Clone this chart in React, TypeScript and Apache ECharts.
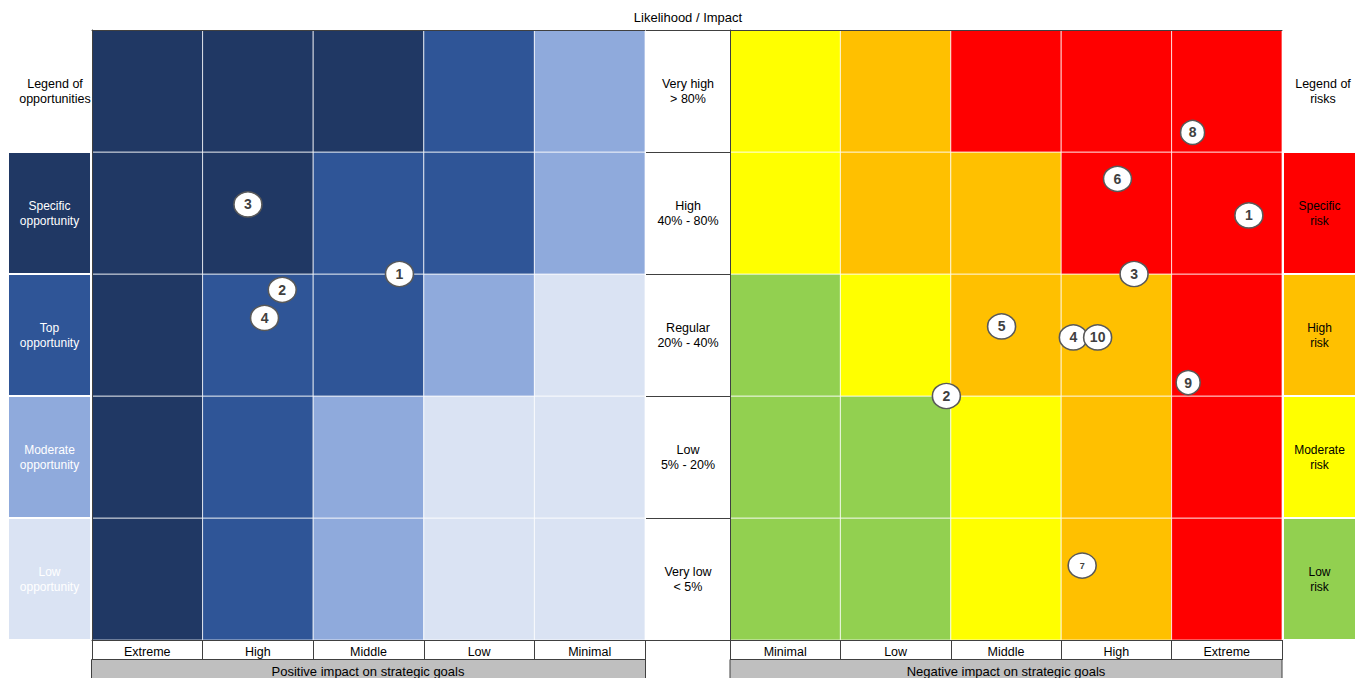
import React, { useEffect, useRef } from 'react';
import * as echarts from 'echarts';

// ---- data ----
const likelihood = ['Very low\n< 5%', 'Low\n5% - 20%', 'Regular\n20% - 40%', 'High\n40% - 80%', 'Very high\n> 80%'];
const positiveImpact = ['Extreme', 'High', 'Middle', 'Low', 'Minimal'];
const negativeImpact = ['Minimal', 'Low', 'Middle', 'High', 'Extreme'];
const opportunityLevels = ['Low\nopportunity', 'Moderate\nopportunity', 'Top\nopportunity', 'Specific\nopportunity'];
const riskLevels = ['Low\nrisk', 'Moderate\nrisk', 'High\nrisk', 'Specific\nrisk'];
// rows from "Very low" (index 0) to "Very high" (index 4); values = level index
const opportunityMatrix = [
  [3, 2, 1, 0, 0],
  [3, 2, 1, 0, 0],
  [3, 2, 2, 1, 0],
  [3, 3, 2, 2, 1],
  [3, 3, 3, 2, 1],
];
const riskMatrix = [
  [0, 0, 1, 2, 3],
  [0, 0, 1, 2, 3],
  [0, 1, 2, 2, 3],
  [1, 2, 2, 3, 3],
  [1, 2, 3, 3, 3],
];
// [label, impact position (0-5), likelihood position (0-5)]
const opportunityPoints: [string, number, number][] = [
  ['1', 2.78, 3.0],
  ['2', 1.72, 2.87],
  ['3', 1.41, 3.57],
  ['4', 1.56, 2.64],
];
const riskPoints: [string, number, number][] = [
  ['1', 4.7, 3.48],
  ['2', 1.96, 2.0],
  ['3', 3.66, 3.0],
  ['4', 3.11, 2.48],
  ['5', 2.46, 2.57],
  ['6', 3.51, 3.78],
  ['7', 3.19, 0.61],
  ['8', 4.19, 4.16],
  ['9', 4.15, 2.11],
  ['10', 3.33, 2.48],
];

const opportunityColors = ['#DAE3F3', '#8FAADC', '#2F5597', '#203864'];
const riskColors = ['#92D050', '#FFFF00', '#FFC000', '#FF0000'];
const FONT = '"Liberation Sans", Arial, sans-serif';
const LINE = '#404040';

function cellSeries(matrix: number[][], colors: string[], axisIdx: number) {
  const data: number[][] = [];
  matrix.forEach((row, r) => row.forEach((lvl, c) => data.push([c, r, lvl])));
  return {
    type: 'custom',
    xAxisIndex: axisIdx,
    yAxisIndex: axisIdx,
    z: 1,
    clip: false,
    silent: true,
    encode: { x: 0, y: 1 },
    data,
    renderItem: (params: any, api: any) => {
      const x = api.value(0), y = api.value(1), lvl = api.value(2);
      const p0 = api.coord([x, y + 1]);
      const p1 = api.coord([x + 1, y]);
      return {
        type: 'rect',
        shape: { x: p0[0], y: p0[1], width: p1[0] - p0[0], height: p1[1] - p0[1] },
        style: { fill: colors[lvl], stroke: 'rgba(255,255,255,0.7)', lineWidth: 1 },
      };
    },
  };
}

function legendSeries(levels: string[], colors: string[], textColor: string, axisIdx: number) {
  return {
    type: 'custom',
    xAxisIndex: axisIdx,
    yAxisIndex: axisIdx,
    z: 1,
    clip: false,
    silent: true,
    encode: { x: 0, y: 1 },
    data: levels.map((_, i) => [0, i, i]),
    renderItem: (params: any, api: any) => {
      const y = api.value(1), lvl = api.value(2);
      const p0 = api.coord([0, y + 1]);
      const p1 = api.coord([1, y]);
      const w = p1[0] - p0[0];
      const h = p1[1] - p0[1];
      return {
        type: 'group',
        children: [
          {
            type: 'rect',
            shape: { x: p0[0], y: p0[1] + 1, width: w, height: h - 2 },
            style: { fill: colors[lvl] },
          },
          {
            type: 'text',
            style: {
              text: levels[params.dataIndex],
              x: p0[0] + w / 2,
              y: p0[1] + h / 2,
              align: 'center',
              verticalAlign: 'middle',
              fill: textColor,
              fontSize: 12,
              fontFamily: FONT,
              lineHeight: 15,
            },
          },
        ],
      };
    },
  };
}

function pointSeries(points: [string, number, number][], axisIdx: number) {
  return {
    type: 'scatter',
    xAxisIndex: axisIdx,
    yAxisIndex: axisIdx,
    z: 6,
    symbol: 'circle',
    symbolSize: [28, 25],
    itemStyle: { color: '#ffffff', borderColor: '#595959', borderWidth: 1.5, opacity: 1 },
    label: {
      show: true,
      position: 'inside',
      formatter: '{b}',
      color: '#404040',
      fontWeight: 'bold',
      fontSize: 14,
      fontFamily: FONT,
    },
    data: points.map(([name, x, y]) => {
      const item: any = { name, value: [x, y] };
      if (name === '8' || name === '9') item.symbolSize = [24, 24];
      if (name === '7') item.label = { fontSize: 9 };
      return item;
    }),
  };
}

const hiddenValue = (gridIndex: number, max: number) => ({
  type: 'value', gridIndex, min: 0, max, show: false,
});

export default function App() {
  const ref = useRef<HTMLDivElement>(null);
  useEffect(() => {
    if (!ref.current) return;
    const chart = echarts.init(ref.current, undefined, { renderer: 'svg' });
    const catX = (gridIndex: number, data: string[]) => ({
      type: 'category',
      gridIndex,
      data,
      position: 'bottom',
      z: 5,
      axisLine: { show: true, lineStyle: { color: LINE, width: 1 } },
      axisTick: { show: true, length: 20, lineStyle: { color: LINE, width: 1 } },
      axisLabel: { show: true, margin: 5, color: '#000', fontSize: 12.5, fontFamily: FONT },
      splitLine: { show: false },
    });
    const topValX = (gridIndex: number) => ({
      type: 'value',
      gridIndex,
      min: 0,
      max: 5,
      position: 'top',
      z: 5,
      axisLine: { show: true, lineStyle: { color: LINE, width: 1 } },
      axisTick: { show: false },
      axisLabel: { show: false },
      splitLine: { show: false },
    });
    const option: any = {
      animation: false,
      backgroundColor: '#ffffff',
      grid: [
        { left: 92, top: 30, width: 553, height: 610 },
        { left: 730, top: 30, width: 552, height: 610 },
        { left: 9, top: 152, width: 81, height: 488 },
        { left: 1284, top: 152, width: 79, height: 488 },
      ],
      xAxis: [
        catX(0, positiveImpact),
        topValX(0),
        catX(1, negativeImpact),
        topValX(1),
        hiddenValue(2, 1),
        hiddenValue(3, 1),
      ],
      yAxis: [
        {
          type: 'category',
          gridIndex: 0,
          data: likelihood,
          position: 'right',
          z: 5,
          axisLine: { show: true, lineStyle: { color: LINE, width: 1 } },
          axisTick: { show: false },
          axisLabel: { show: false },
          splitLine: { show: false },
        },
        hiddenValue(0, 5),
        {
          type: 'category',
          gridIndex: 1,
          data: likelihood,
          position: 'left',
          z: 5,
          axisLine: { show: true, lineStyle: { color: LINE, width: 1 } },
          axisTick: { show: true, length: 84, lineStyle: { color: LINE, width: 1 } },
          axisLabel: {
            show: true,
            margin: 42,
            align: 'center',
            color: '#000',
            fontSize: 12.5,
            lineHeight: 15,
            fontFamily: FONT,
          },
          splitLine: { show: false },
        },
        hiddenValue(1, 5),
        hiddenValue(2, 4),
        hiddenValue(3, 4),
      ],
      graphic: [
        {
          type: 'text',
          x: 688,
          y: 17,
          style: {
            text: 'Likelihood / Impact', fill: '#000', fontSize: 13, fontFamily: FONT,
            align: 'center', verticalAlign: 'middle',
          },
        },
        {
          type: 'text',
          x: 55,
          y: 91,
          style: {
            text: 'Legend of\nopportunities', fill: '#000', fontSize: 12.5, fontFamily: FONT,
            lineHeight: 15, align: 'center', verticalAlign: 'middle',
          },
        },
        {
          type: 'text',
          x: 1323,
          y: 91,
          style: {
            text: 'Legend of\nrisks', fill: '#000', fontSize: 12.5, fontFamily: FONT,
            lineHeight: 15, align: 'center', verticalAlign: 'middle',
          },
        },
        {
          type: 'rect',
          shape: { x: 91.5, y: 659.5, width: 554, height: 30 },
          style: { fill: '#BFBFBF', stroke: LINE, lineWidth: 1 },
        },
        {
          type: 'rect',
          shape: { x: 730, y: 659.5, width: 552, height: 30 },
          style: { fill: '#BFBFBF', stroke: LINE, lineWidth: 1 },
        },
        {
          type: 'text',
          x: 368,
          y: 671,
          style: {
            text: 'Positive impact on strategic goals', fill: '#000', fontSize: 13, fontFamily: FONT,
            align: 'center', verticalAlign: 'middle',
          },
        },
        {
          type: 'text',
          x: 1006,
          y: 671,
          style: {
            text: 'Negative impact on strategic goals', fill: '#000', fontSize: 13, fontFamily: FONT,
            align: 'center', verticalAlign: 'middle',
          },
        },
      ],
      series: [
        cellSeries(opportunityMatrix, opportunityColors, 1),
        cellSeries(riskMatrix, riskColors, 3),
        legendSeries(opportunityLevels, opportunityColors, '#ffffff', 4),
        legendSeries(riskLevels, riskColors, '#000000', 5),
        pointSeries(opportunityPoints, 1),
        pointSeries(riskPoints, 3),
      ],
    };
    chart.setOption(option);
    return () => chart.dispose();
  }, []);
  return (
    <div
      ref={ref}
      style={{ position: 'absolute', left: 0, top: 0, width: 1355, height: 678 }}
    />
  );
}
